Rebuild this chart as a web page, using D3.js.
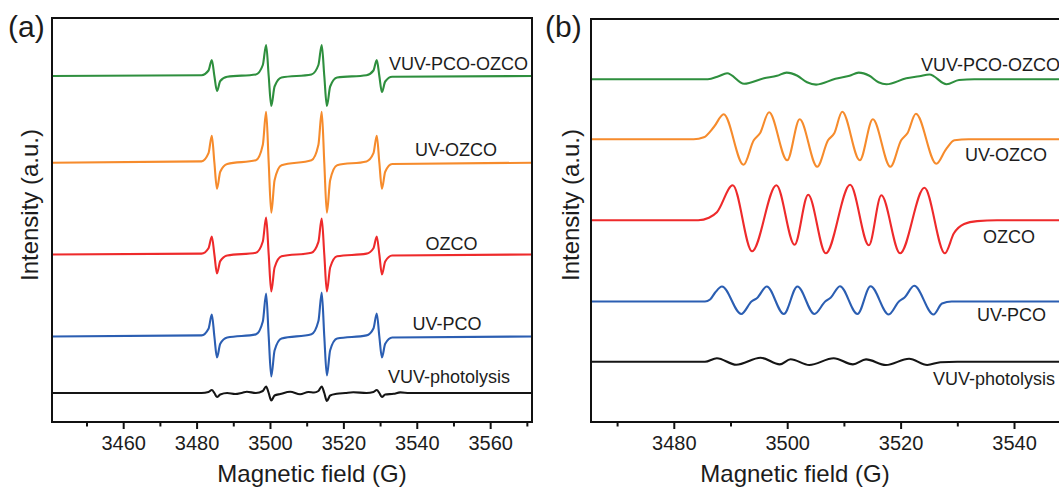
<!DOCTYPE html>
<html>
<head>
<meta charset="utf-8">
<script src="https://d3js.org/d3.v7.min.js"></script>
<style>
    body { margin: 0; background: #fff; }
    text { font-family: Arial, "Liberation Sans", Helvetica, sans-serif; fill: #1c1c1c; }
</style>
</head>
<body>
<div id="chart"></div>
<script>
    // sample names, top to bottom, and their colours
    var samples = ["VUV-PCO-OZCO", "UV-OZCO", "OZCO", "UV-PCO", "VUV-photolysis"]
    var colors = ["#2e8f3e", "#f68b2c", "#ee2a2b", "#2b5eb2", "#151515"]

    // ---- panel (a): sharp DMPO quartet, field in G, intensity in a.u. above baseline
    var ticksA = [3460, 3480, 3500, 3520, 3540, 3560]
    var minorA = [3450, 3470, 3490, 3510, 3530, 3550, 3570]
    var offsetsA = [346, 259.3, 167.5, 85.5, 29]

    var fieldA = [3440.5,
        3481.35, 3483.25, 3484.15, 3484.85, 3485.55, 3486.45, 3488.35,
        3496.15, 3498.05, 3498.95, 3499.65, 3500.35, 3501.25, 3503.15,
        3511.3, 3513.2, 3514.1, 3514.8, 3515.5, 3516.4, 3518.3,
        3526.3, 3528.2, 3529.1, 3529.8, 3530.5, 3531.4, 3533.3,
        3571.5]
    var vuvPcoOzcoA = [0, 0.8, 5.5, 16, 0, -15, -5, -0.8, 1.5, 11, 31, 0, -30, -10.5, -1.5,
        1.5, 11, 31, 0, -30, -10.5, -1.5, 0.8, 5.5, 16, 0, -16, -5.5, -0.8, 0]
    var uvOzcoA = [0, 1.3, 9.5, 27, 0, -26, -9, -1.3, 2.5, 18, 51, 0, -50, -17.5, -2.5,
        2.5, 18, 51, 0, -50, -17.5, -2.5, 1.3, 9.5, 27, 0, -26, -9, -1.3, 0]
    var ozcoA = [0, 0.9, 6.3, 18, 0, -19, -6.6, -1, 1.8, 13, 37, 0, -37, -13, -1.8,
        1.8, 12.6, 36, 0, -37, -13, -1.8, 0.9, 6.3, 18, 0, -20, -7, -1, 0]
    var uvPcoA = [0, 1.1, 7.7, 22, 0, -21, -7.3, -1, 2.1, 15, 43, 0, -40, -14, -2,
        2.2, 15.4, 44, 0, -39, -13.7, -2, 1.1, 8, 23, 0, -21, -7.3, -1, 0]
    var fieldPhotoA = [3440.5, 3481.35, 3483.25, 3484.15, 3484.85, 3485.55, 3486.45, 3488.35,
        3490.5, 3492.5, 3493.7, 3496.15, 3498.05, 3498.95, 3499.65, 3500.35, 3501.25,
        3502.8, 3505.5, 3508.2, 3510.5, 3512, 3513.2, 3514.1, 3514.8, 3515.5, 3516.4,
        3518.2, 3520.5, 3522.7, 3526.3, 3528.2, 3529.1, 3529.8, 3530.5, 3531.4,
        3533.7, 3535.5, 3538, 3571.5]
    var vuvPhotoA = [0, 0, 1, 3, 0, -4, -1.5, 0,
        -1, 0.3, 1.2, 0, 2, 6.5, 0, -7.5, -2.5,
        -1, 1.3, -1.3, 1, 0.5, 2, 6.5, 0, -8, -2.5,
        -0.8, 0, 0.8, 0, 1, 3, 0, -4, -1.5,
        -0.8, 0.6, 0, 0]

    // ---- panel (b): broad multi-line spectra
    var ticksB = [3480, 3500, 3520, 3540]
    var minorB = [3470, 3490, 3510, 3530, 3550]
    var offsetsB = [342.7, 282.7, 201.7, 120.5, 60.3]

    var vuvPcoOzcoFieldB = [3465.4, 3486, 3487.9, 3489.4, 3492.4, 3495.9, 3498.2, 3499.9, 3501.8,
        3503.5, 3505.1, 3508.5, 3511, 3512.6, 3514.5, 3516.1, 3517.5, 3521, 3523.3, 3525.1,
        3528.1, 3530.3, 3533, 3560]
    var vuvPcoOzcoB = [0, 0, 3, 6, -4.5, 1, 3.5, 6.7, 3.5,
        -3, -5.3, 0.5, 3.5, 6.7, 3.5, -3, -5, 1, 3, 4.8,
        -5, -0.7, 0, 0]
    var uvOzcoFieldB = [3465.4, 3483.5, 3485.3, 3487.1, 3488.8, 3492.3, 3494.1, 3495.2, 3496.8,
        3500, 3502.2, 3505.3, 3507.2, 3508.3, 3509.7, 3512.8, 3515.1, 3518.2, 3520.1, 3521.2,
        3522.7, 3526.3, 3528, 3529.5, 3532, 3560]
    var uvOzcoB = [0, 0, 2, 12.5, 25, -25.5, -1, 6, 27,
        -21, 20, -27.5, -1, 6, 27.5, -21, 20, -27.5, -1, 6,
        25.5, -24.5, -10, -1, 0, 0]
    var ozcoFieldB = [3465.4, 3484.3, 3486.2, 3487.6, 3490.4, 3493.8, 3498.1, 3501.3, 3503.7,
        3506.8, 3511.1, 3514.4, 3516.6, 3519.9, 3524.2, 3527.8, 3529.4, 3531.2, 3533.5, 3537, 3560]
    var ozcoB = [0, 0, 2.5, 8, 35, -31, 35, -24.5, 25.5,
        -33, 35.5, -25, 25, -33, 32.5, -33, -13, -3.7, -0.8, 0, 0]
    var uvPcoFieldB = [3465.4, 3485.5, 3486.4, 3487.3, 3488.5, 3491.9, 3493.7, 3494.7, 3496.4,
        3499.4, 3501.8, 3504.8, 3506.7, 3507.7, 3509.3, 3512.4, 3514.7, 3517.9, 3519.7, 3520.7,
        3522.4, 3525.8, 3527.3, 3529, 3560]
    var uvPcoB = [0, 0, 2, 9, 15, -12.5, 0, 3.5, 15,
        -12.5, 15, -12.5, 0, 4, 15.3, -12.5, 15.3, -13, 0, 4,
        15.7, -13, -2, 0, 0]
    var vuvPhotoFieldB = [3465.4, 3485.5, 3487.6, 3491, 3495.3, 3498.7, 3500.6, 3503.9, 3508.2,
        3511.6, 3513.9, 3517.4, 3521.5, 3524.7, 3527, 3530, 3560]
    var vuvPhotoB = [0, 0, 3.5, -3, 4, -2.7, 2.5, -3.3, 3.5,
        -2.7, 2.3, -3.3, 3, -3.3, -0.5, 0, 0]

    // ---- layout
    var W = 1059, H = 488

    var panelA = {
        left: 52, right: 532, top: 18, bottom: 422,
        domain: [3440.6, 3571.4], ymax: 404,
        majors: ticksA, minors: minorA,
        fields: [fieldA, fieldA, fieldA, fieldA, fieldPhotoA],
        values: [vuvPcoOzcoA, uvOzcoA, ozcoA, uvPcoA, vuvPhotoA],
        offsets: offsetsA,
        letter: "(a)", letterX: 8, titleX: 312, yTitleX: 38,
        // label positions (px): x, y, anchor
        labels: [[528, 70, "end"], [456, 155.5, "middle"], [451.5, 249.5, "middle"],
                 [447, 329.5, "middle"], [449, 383, "middle"]]
    }
    var panelB = {
        left: 591, right: 1090, top: 19, bottom: 422,
        domain: [3465.4, 3553.4], ymax: 403,
        majors: ticksB, minors: minorB,
        fields: [vuvPcoOzcoFieldB, uvOzcoFieldB, ozcoFieldB, uvPcoFieldB, vuvPhotoFieldB],
        values: [vuvPcoOzcoB, uvOzcoB, ozcoB, uvPcoB, vuvPhotoB],
        offsets: offsetsB,
        letter: "(b)", letterX: 545, titleX: 795, yTitleX: 579,
        labels: [[921, 71, "start"], [965, 161, "start"], [983, 242.7, "start"],
                 [977, 321, "start"], [933, 385, "start"]]
    }

    var svg = d3.select("#chart").append("svg")
        .attr("width", W)
        .attr("height", H)

    drawPanel(panelA)
    drawPanel(panelB)

    function drawPanel(p) {
        var g = svg.append("g")

        var x = d3.scaleLinear().domain(p.domain).range([p.left, p.right])
        var y = d3.scaleLinear().domain([0, p.ymax]).range([p.bottom, p.top])

        var line = d3.line()
            .x(function (d) { return x(d[0]) })
            .y(function (d) { return y(d[1]) })
            .curve(d3.curveMonotoneX)

        // spectra
        samples.forEach(function (name, i) {
            var pts = d3.zip(p.fields[i], p.values[i].map(function (v) { return v + p.offsets[i] }))
            g.append("path")
                .datum(pts)
                .attr("d", line)
                .attr("fill", "none")
                .attr("stroke", colors[i])
                .attr("stroke-width", 2.1)
                .attr("stroke-linejoin", "round")
        })

        // sample labels
        p.labels.forEach(function (l, i) {
            g.append("text")
                .attr("x", l[0])
                .attr("y", l[1])
                .attr("text-anchor", l[2])
                .style("font-size", "18px")
                .text(samples[i])
        })

        // minor ticks first, then majors with labels
        var minorAxis = g.append("g")
            .attr("transform", "translate(0," + p.bottom + ")")
            .call(d3.axisBottom(x).tickValues(p.minors).tickSize(4.5).tickFormat(""))
        var majorAxis = g.append("g")
            .attr("transform", "translate(0," + p.bottom + ")")
            .call(d3.axisBottom(x).tickValues(p.majors).tickSize(7).tickFormat(d3.format("d")))

        ;[minorAxis, majorAxis].forEach(function (a) {
            a.select(".domain").remove()
            a.selectAll("line").attr("stroke", "#111").attr("stroke-width", 2)
        })
        majorAxis.selectAll("text")
            .attr("y", 28)
            .attr("dy", 0)
            .attr("fill", "#1c1c1c")
            .style("font-size", "20px")
            .style("font-family", "Arial, 'Liberation Sans', sans-serif")

        // frame
        g.append("rect")
            .attr("x", p.left)
            .attr("y", p.top)
            .attr("width", p.right - p.left)
            .attr("height", p.bottom - p.top)
            .attr("fill", "none")
            .attr("stroke", "#111")
            .attr("stroke-width", 2)

        // axis titles
        g.append("text")
            .attr("x", p.titleX)
            .attr("y", 482)
            .attr("text-anchor", "middle")
            .style("font-size", "24px")
            .text("Magnetic field (G)")

        g.append("text")
            .attr("transform", "translate(" + p.yTitleX + ",205)rotate(-90)")
            .attr("text-anchor", "middle")
            .style("font-size", "24px")
            .text("Intensity (a.u.)")

        // panel letter
        g.append("text")
            .attr("x", p.letterX)
            .attr("y", 37)
            .style("font-size", "30px")
            .text(p.letter)
    }
</script>
</body>
</html>
